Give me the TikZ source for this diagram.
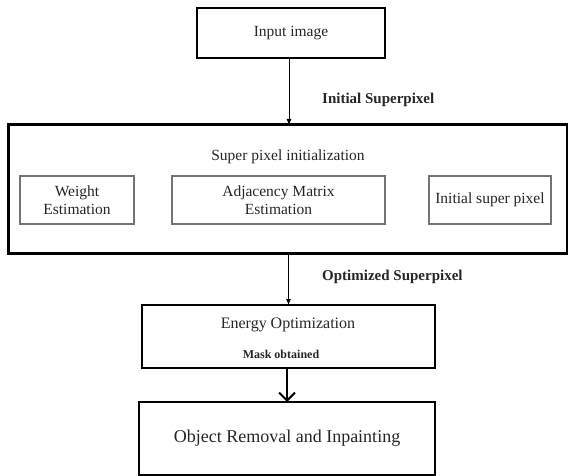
\documentclass[tikz,border=0pt]{standalone}
\usepackage{fontspec}
\setmainfont{Liberation Serif}
\usetikzlibrary{arrows.meta}
\begin{document}
\begin{tikzpicture}[x=1pt,y=-1pt,
  box/.style={draw=black,line width=2pt,inner sep=2pt,outer sep=0pt,align=center,
    font=\fontsize{15.5}{18}\selectfont,text=black!85},
  bigbox/.style={draw=black,line width=3pt,inner sep=0pt,outer sep=0pt},
  subbox/.style={draw=black!55,line width=1.4pt,inner sep=2pt,outer sep=0pt,align=center,
    font=\fontsize{15.5}{18}\selectfont,text=black!85,minimum height=48pt},
  lbl/.style={font=\bfseries\fontsize{15}{18}\selectfont,text=black!85,anchor=west,inner sep=0pt},
  arr/.style={line width=0.9pt,-{Latex[length=6pt,width=5pt]}},
  varr/.style={line width=2pt,-{Straight Barb[length=8pt,width=16pt,line width=2pt]}}
]
\useasboundingbox (0,0) rectangle (568,476);
\node[box,minimum width=188pt,minimum height=50pt] (in) at (291,33) {Input image};
\node[bigbox,minimum width=559pt,minimum height=128pt] (big) at (287.5,189) {};
\node[font=\fontsize{15.5}{18}\selectfont,text=black!85] (spi) at (288,157) {Super pixel initialization};
\node[subbox,minimum width=114pt] (we) at (77,200) {Weight\\Estimation};
\node[subbox,minimum width=213pt] (am) at (278.5,200) {Adjacency Matrix\\Estimation};
\node[subbox,minimum width=122pt] (isp) at (490,200) {Initial super pixel};
\node[box,minimum width=293pt,minimum height=63pt] (en) at (288.5,336.5) {};
\node[font=\fontsize{16}{18}\selectfont,text=black!85] (ent) at (288,325) {Energy Optimization};
\node[font=\bfseries\fontsize{12}{14}\selectfont,text=black!85] (mask) at (281,354) {Mask obtained};
\node[box,minimum width=296pt,minimum height=73pt,font=\fontsize{18}{20}\selectfont] (obj) at (287,438.5) {Object Removal and Inpainting};
\node[lbl] (l1) at (322,100) {Initial Superpixel};
\node[lbl] (l2) at (322,277) {Optimized Superpixel};
\draw[arr] ([xshift=-2pt]in.south) -- ([xshift=-2pt]in.south |- big.north);
\draw[arr] (big.south -| en.north) -- (en.north);
\draw[varr] (en.south -| obj.north) -- (obj.north);
\end{tikzpicture}
\end{document}
